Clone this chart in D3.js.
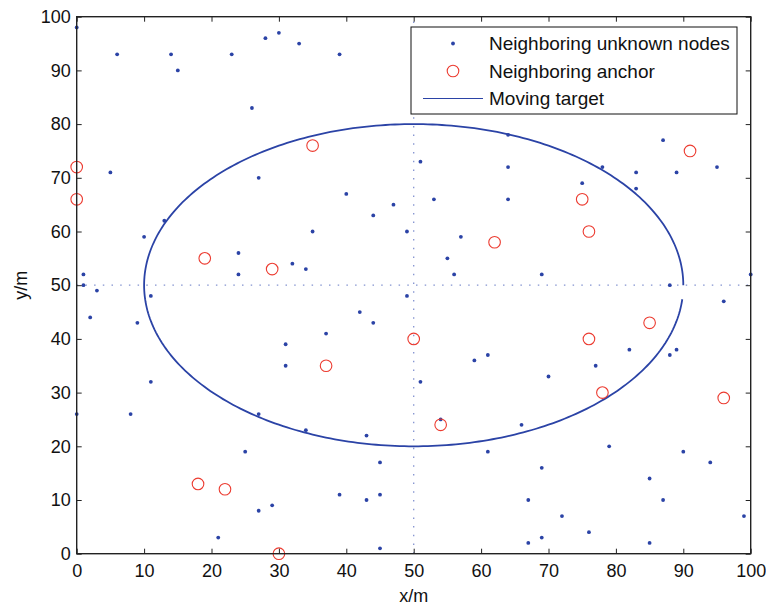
<!DOCTYPE html>
<html>
<head>
<meta charset="utf-8">
<script src="https://cdn.jsdelivr.net/npm/d3@7"></script>
<style>
  html, body { margin: 0; padding: 0; background: #fff; }
  svg { display: block; }
  text { font-family: "Liberation Sans", Arial, Helvetica, sans-serif; fill: #111; }
</style>
</head>
<body>
<svg id="chart" width="766" height="607"></svg>
<script>
// Unknown node positions (x, y in metres)
const unknownX = [0, 6, 14, 15, 23, 28, 30, 33, 39, 26, 5, 27, 64, 64, 64, 51, 40, 53, 87, 78, 83, 89, 95, 75, 83,
  13, 10, 24, 24, 32, 34, 1, 1, 3, 11, 2, 9, 31, 31, 47, 44, 35, 49, 57, 55, 56, 69, 100, 88, 96, 49, 42, 44, 37,
  61, 59, 70, 82, 88, 89, 77, 11, 0, 8, 27, 34, 25, 29, 27, 21, 51, 43, 54, 66, 61, 45, 69, 39, 43, 45, 67, 69, 67,
  45, 79, 90, 94, 85, 87, 72, 99, 76, 85];
const unknownY = [98, 93, 93, 90, 93, 96, 97, 95, 93, 83, 71, 70, 78, 72, 66, 73, 67, 66, 77, 72, 71, 71, 72, 69, 68,
  62, 59, 56, 52, 54, 53, 52, 50, 49, 48, 44, 43, 39, 35, 65, 63, 60, 60, 59, 55, 52, 52, 52, 50, 47, 48, 45, 43, 41,
  37, 36, 33, 38, 37, 38, 35, 32, 26, 26, 26, 23, 19, 9, 8, 3, 32, 22, 25, 24, 19, 17, 16, 11, 10, 11, 10, 3, 2,
  1, 20, 19, 17, 14, 10, 7, 7, 4, 2];

// Anchor node positions
const anchorX = [0, 0, 35, 91, 75, 76, 62, 19, 29, 50, 37, 76, 85, 78, 96, 54, 18, 22, 30];
const anchorY = [72, 66, 76, 75, 66, 60, 58, 55, 53, 40, 35, 40, 43, 30, 29, 24, 13, 12, 0];

// Moving target: elliptical track around the field centre
const targetCenter = [50, 50];
const targetRadii = [40, 30];
const targetSweepDeg = [0, 355];

// Axis ticks
const xTicks = [0, 10, 20, 30, 40, 50, 60, 70, 80, 90, 100];
const yTicks = [0, 10, 20, 30, 40, 50, 60, 70, 80, 90, 100];

const legendLabels = ["Neighboring unknown nodes", "Neighboring anchor", "Moving target"];

const margin = { left: 76.7, top: 16.7, right: 766 - 750.7, bottom: 607 - 553.7 };
const W = 766, H = 607;
const svg = d3.select("#chart");

const x = d3.scaleLinear().domain([0, 100]).range([margin.left, W - margin.right]);
const y = d3.scaleLinear().domain([0, 100]).range([H - margin.bottom, margin.top]);

const blue = "#2b43a6";
const red = "#ec3b30";
const tickFont = 18;

// Centre cross-hair guides
const guide = svg.append("g")
  .attr("stroke", "#8393d0").attr("stroke-width", 1.3)
  .attr("stroke-dasharray", "1.5,7.2").attr("fill", "none");
guide.append("line").attr("x1", x(0)).attr("x2", x(100)).attr("y1", y(targetCenter[1])).attr("y2", y(targetCenter[1]));
guide.append("line").attr("x1", x(targetCenter[0])).attr("x2", x(targetCenter[0])).attr("y1", y(0)).attr("y2", y(100));

// Target track
const angles = d3.range(targetSweepDeg[0], targetSweepDeg[1] + 0.5, 1);
const track = angles.map(a => {
  const t = a * Math.PI / 180;
  return [targetCenter[0] + targetRadii[0] * Math.cos(t), targetCenter[1] + targetRadii[1] * Math.sin(t)];
});
svg.append("path")
  .datum(track)
  .attr("fill", "none").attr("stroke", blue).attr("stroke-width", 1.8)
  .attr("d", d3.line().x(d => x(d[0])).y(d => y(d[1])));

// Unknown nodes
svg.append("g").selectAll("circle")
  .data(unknownX.map((v, i) => [v, unknownY[i]]))
  .join("circle")
  .attr("cx", d => x(d[0])).attr("cy", d => y(d[1]))
  .attr("r", 1.9).attr("fill", blue);

// Anchors
svg.append("g").selectAll("circle")
  .data(anchorX.map((v, i) => [v, anchorY[i]]))
  .join("circle")
  .attr("cx", d => x(d[0])).attr("cy", d => y(d[1]))
  .attr("r", 5.8).attr("fill", "none").attr("stroke", red).attr("stroke-width", 1.1);

// Axes box with inward ticks on all four sides
const tickLen = 5;
const axisStyle = g => {
  g.select(".domain").remove();
  g.selectAll(".tick line").attr("stroke", "#222").attr("stroke-width", 1);
  g.selectAll(".tick text").attr("font-size", tickFont).style("fill", "#111");
};
svg.append("g").attr("transform", `translate(0,${y(0)})`)
  .call(d3.axisBottom(x).tickValues(xTicks).tickSize(-tickLen).tickPadding(11).tickFormat(d3.format("d")))
  .call(axisStyle);
svg.append("g").attr("transform", `translate(0,${y(100)})`)
  .call(d3.axisTop(x).tickValues(xTicks).tickSize(-tickLen).tickFormat(""))
  .call(axisStyle);
svg.append("g").attr("transform", `translate(${x(0)},0)`)
  .call(d3.axisLeft(y).tickValues(yTicks).tickSize(-tickLen).tickPadding(6).tickFormat(d3.format("d")))
  .call(axisStyle);
svg.append("g").attr("transform", `translate(${x(100)},0)`)
  .call(d3.axisRight(y).tickValues(yTicks).tickSize(-tickLen).tickFormat(""))
  .call(axisStyle);
svg.append("rect")
  .attr("x", x(0)).attr("y", y(100)).attr("width", x(100) - x(0)).attr("height", y(0) - y(100))
  .attr("fill", "none").attr("stroke", "#222").attr("stroke-width", 1.4);

// Axis titles
svg.append("text").attr("x", x(50)).attr("y", 602).attr("text-anchor", "middle")
  .attr("font-size", tickFont).text("x/m");
svg.append("text").attr("transform", `translate(27,${y(50)}) rotate(-90)`)
  .attr("text-anchor", "middle").attr("font-size", tickFont).text("y/m");

// Legend
const lg = svg.append("g");
lg.append("rect").attr("x", 411).attr("y", 27).attr("width", 326).attr("height", 87)
  .attr("fill", "#fff").attr("stroke", "#111").attr("stroke-width", 1);
const rowY = [43.5, 71, 98.5];
lg.append("circle").attr("cx", 453).attr("cy", rowY[0]).attr("r", 1.9).attr("fill", blue);
lg.append("circle").attr("cx", 453).attr("cy", rowY[1]).attr("r", 5.8)
  .attr("fill", "none").attr("stroke", red).attr("stroke-width", 1.1);
lg.append("line").attr("x1", 423).attr("x2", 483).attr("y1", rowY[2]).attr("y2", rowY[2])
  .attr("stroke", blue).attr("stroke-width", 1.2);
lg.selectAll("text.lab").data(legendLabels).join("text").attr("class", "lab")
  .attr("x", 489).attr("y", (d, i) => rowY[i]).attr("dy", "0.36em")
  .attr("font-size", 19).text(d => d);
</script>
</body>
</html>
